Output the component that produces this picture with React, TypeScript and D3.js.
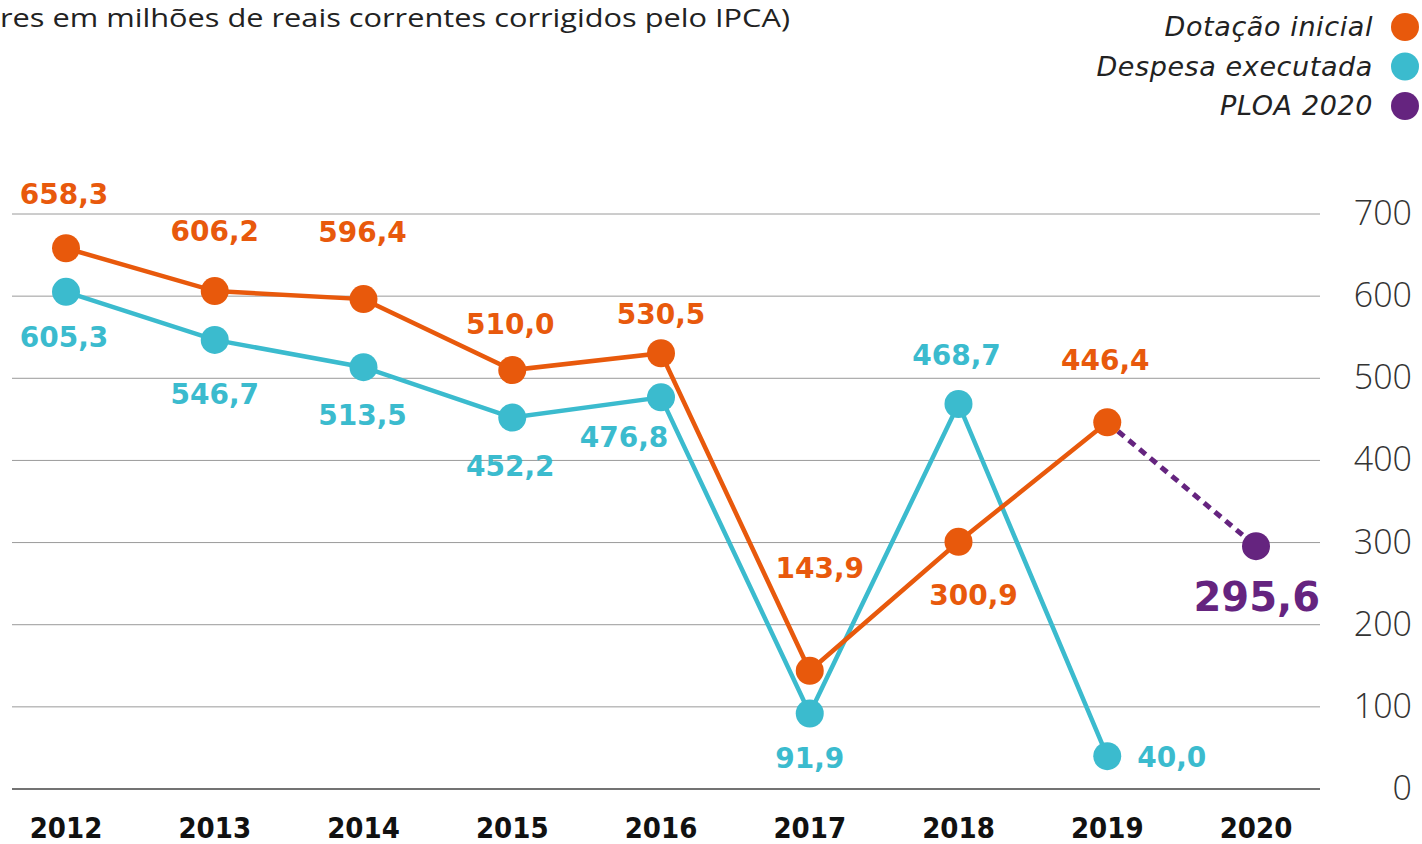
import React from "react";
import * as d3 from "d3";

const years = ["2012", "2013", "2014", "2015", "2016", "2017", "2018", "2019", "2020"];
const dotacaoInicial = [658.3, 606.2, 596.4, 510.0, 530.5, 143.9, 300.9, 446.4];
const despesaExecutada = [605.3, 546.7, 513.5, 452.2, 476.8, 91.9, 468.7, 40.0];
const ploa2020 = [{ year: "2020", value: 295.6 }];
const yTicks = [0, 100, 200, 300, 400, 500, 600, 700];
const legendItems = ["Dotação inicial", "Despesa executada", "PLOA 2020"];
const subtitle = "res em milhões de reais correntes corrigidos pelo IPCA)";

// label placement (layout only)
const orangeLabelPos = [
  { dx: -2, dy: -44 }, { dx: 0, dy: -50 }, { dx: -1, dy: -57 }, { dx: -2, dy: -36 },
  { dx: 0, dy: -29 }, { dx: 10, dy: -93 }, { dx: 15, dy: 63 }, { dx: -2, dy: -52 },
];
const cyanLabelPos = [
  { dx: -2, dy: 55 }, { dx: 0, dy: 64 }, { dx: -1, dy: 58 }, { dx: -2, dy: 58 },
  { dx: -37, dy: 50 }, { dx: 0, dy: 54 }, { dx: -2, dy: -39 }, { dx: 30, dy: 11, anchor: "start" },
];

const COLORS = { orange: "#E8590C", cyan: "#3BBBCE", purple: "#65247F" };

export default function App() {
  const W = 1422, H = 844;
  const x = d3.scalePoint<string>().domain(years).range([66, 1256]);
  const y = d3.scaleLinear().domain([0, 700]).range([789, 214]);
  const line = d3.line<number>().x((_, i) => x(years[i])!).y((d) => y(d));

  const numFmt = (v: number) => v.toFixed(1).replace(".", ",");
  const labelFont = "'DejaVu Sans', sans-serif";

  return (
    <svg width={W} height={H} style={{ position: "absolute", left: 0, top: 0, background: "#fff" }}>
      <text x={0} y={27} fontFamily="'Open Sans', sans-serif" fontSize={26} fill="#222" textLength={790} lengthAdjust="spacingAndGlyphs">
        {subtitle}
      </text>

      {/* legend */}
      {legendItems.map((t, i) => (
        <g key={t}>
          <text x={1373} y={36 + i * 39.5} textAnchor="end" fontFamily="'DejaVu Sans', sans-serif" fontStyle="oblique" fontWeight={300} fontSize={27} letterSpacing={0.6} fill="#222">
            {t}
          </text>
          <circle cx={1405} cy={27 + i * 39.5} r={14} fill={[COLORS.orange, COLORS.cyan, COLORS.purple][i]} />
        </g>
      ))}

      {/* grid */}
      {yTicks.map((t) => (
        <g key={t}>
          <line x1={12} x2={1320} y1={y(t)} y2={y(t)} stroke={t === 0 ? "#444" : "#9a9a9a"} strokeWidth={t === 0 ? 1.5 : 1} />
          <text x={1412} y={y(t) + 11} textAnchor="end" fontFamily="'Open Sans', sans-serif" fontWeight={300} fontSize={34} fill="#333">
            {t}
          </text>
        </g>
      ))}

      {/* year labels */}
      {years.map((yr) => (
        <text key={yr} x={x(yr)} y={838} textAnchor="middle" fontFamily="'DejaVu Sans Condensed', 'DejaVu Sans', sans-serif" fontWeight={700} fontSize={29} fill="#111">
          {yr}
        </text>
      ))}

      {/* PLOA dotted */}
      <line
        x1={x("2019")} y1={y(dotacaoInicial[7])} x2={x(ploa2020[0].year)} y2={y(ploa2020[0].value)}
        stroke={COLORS.purple} strokeWidth={5} strokeDasharray="8 6"
      />

      {/* lines */}
      <path d={line(despesaExecutada)!} fill="none" stroke={COLORS.cyan} strokeWidth={4.5} />
      <path d={line(dotacaoInicial)!} fill="none" stroke={COLORS.orange} strokeWidth={4.5} />

      {despesaExecutada.map((v, i) => (
        <circle key={"c" + i} cx={x(years[i])} cy={y(v)} r={14} fill={COLORS.cyan} />
      ))}
      {dotacaoInicial.map((v, i) => (
        <circle key={"o" + i} cx={x(years[i])} cy={y(v)} r={14} fill={COLORS.orange} />
      ))}
      {ploa2020.map((d) => (
        <circle key="p" cx={x(d.year)} cy={y(d.value)} r={14} fill={COLORS.purple} />
      ))}

      {/* value labels */}
      {dotacaoInicial.map((v, i) => (
        <text key={"ol" + i} x={x(years[i])! + orangeLabelPos[i].dx} y={y(v) + orangeLabelPos[i].dy}
          textAnchor="middle" fontFamily={labelFont} fontWeight={700} fontSize={28} fill={COLORS.orange}>
          {numFmt(v)}
        </text>
      ))}
      {despesaExecutada.map((v, i) => (
        <text key={"cl" + i} x={x(years[i])! + cyanLabelPos[i].dx} y={y(v) + cyanLabelPos[i].dy}
          textAnchor={(cyanLabelPos[i] as any).anchor || "middle"} fontFamily={labelFont} fontWeight={700} fontSize={28} fill={COLORS.cyan}>
          {numFmt(v)}
        </text>
      ))}
      {ploa2020.map((d) => (
        <text key="pl" x={x(d.year)! + 64} y={y(d.value) + 65} textAnchor="end" fontFamily={labelFont} fontWeight={700} fontSize={40} fill={COLORS.purple}>
          {numFmt(d.value)}
        </text>
      ))}
    </svg>
  );
}
